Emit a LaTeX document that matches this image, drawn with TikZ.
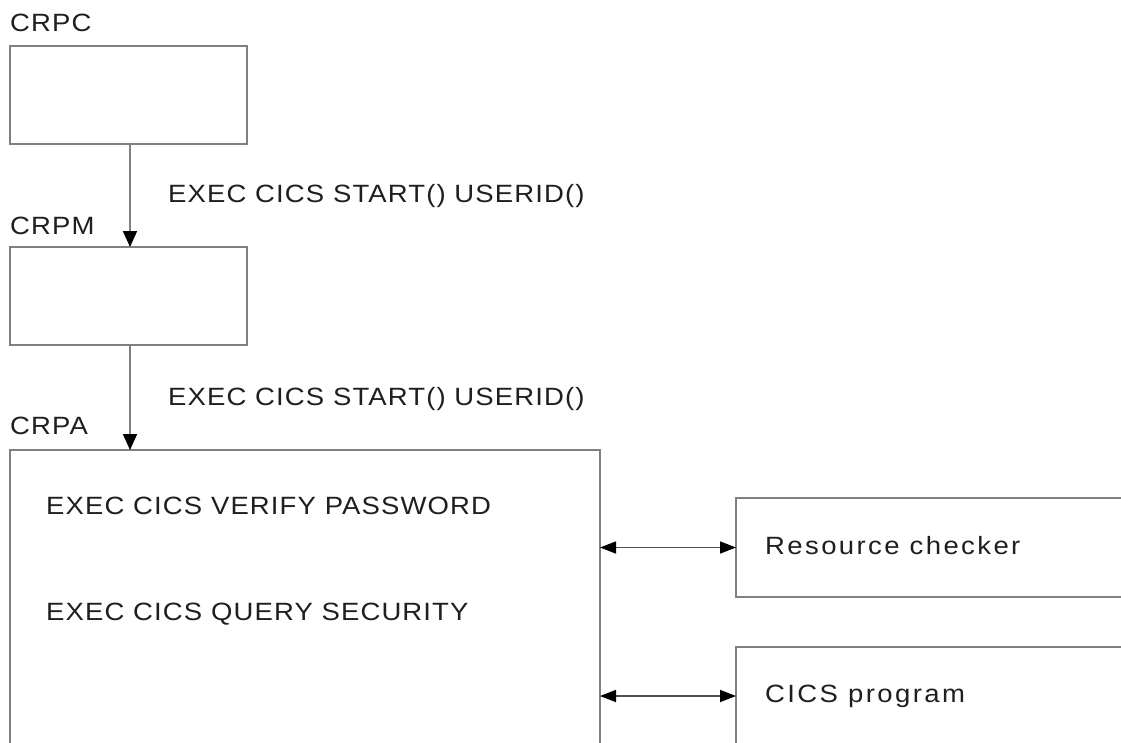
\documentclass[tikz,border=0pt]{standalone}
\usepackage{fontspec}
\setmainfont{Liberation Sans}
\newfontfamily\capsfont[FakeStretch=1.1,LetterSpace=4.5]{Liberation Sans}
\newfontfamily\lowfont[FakeStretch=1.1,LetterSpace=9.6]{Liberation Sans}
\usetikzlibrary{arrows.meta}
\definecolor{boxgray}{RGB}{128,128,128}
\definecolor{arrgray}{RGB}{80,80,80}
\tikzset{
  boxnode/.style={draw=boxgray, line width=1.8pt, rectangle, inner sep=0pt, outer sep=0pt, anchor=north west},
  capslabel/.style={anchor=base west, inner sep=0pt, font=\capsfont\fontsize{25}{30}\selectfont, text=black!88},
  lowlabel/.style={anchor=base west, inner sep=0pt, font=\lowfont\fontsize{25}{30}\selectfont, text=black!88},
  downarrow/.style={draw=boxgray, line width=1.8pt, -{Triangle[length=16pt,width=14pt,color=black]}},
  dblarrow/.style={draw=arrgray, line width=1.5pt, {Triangle[length=16pt,width=12pt,color=black]}-{Triangle[length=16pt,width=12pt,color=black]}}
}
\begin{document}
\begin{tikzpicture}[x=1pt,y=-1pt]
\useasboundingbox (0,0) rectangle (1121,742);
\fill[white] (0,0) rectangle (1121,742);
\clip (0,0) rectangle (1121,742);

% boxes
\node[boxnode, minimum width=237pt, minimum height=98pt] (crpc) at (10,46) {};
\node[boxnode, minimum width=237pt, minimum height=98pt] (crpm) at (10,247) {};
\node[boxnode, minimum width=590pt, minimum height=350pt] (crpa) at (10,450) {};
\node[boxnode, minimum width=500pt, minimum height=99pt] (rc) at (736,498) {};
\node[boxnode, minimum width=500pt, minimum height=98pt] (cp) at (736,647) {};

% labels
\node[capslabel] (lcrpc) at (10,31) {CRPC};
\node[capslabel] (lcrpm) at (10,234) {CRPM};
\node[capslabel] (lcrpa) at (10,434) {CRPA};
\node[capslabel] (start1) at (168,202) {EXEC CICS START() USERID()};
\node[capslabel] (start2) at (168,405) {EXEC CICS START() USERID()};
\node[capslabel] (verify) at (46,514) {EXEC CICS VERIFY PASSWORD};
\node[capslabel] (query) at (46,620) {EXEC CICS QUERY SECURITY};
\node[lowlabel] (trc) at (765,554) {Resource checker};
\node[lowlabel] (tcp) at (765,702) {CICS program};

% connectors
\draw[downarrow] ([xshift=120pt]crpc.south west) -- ([xshift=120pt]crpm.north west);
\draw[downarrow] ([xshift=120pt]crpm.south west) -- ([xshift=120pt]crpa.north west);
\draw[dblarrow] (crpa.east |- rc.west) -- (rc.west);
\draw[dblarrow] (crpa.east |- cp.west) -- (cp.west);
\end{tikzpicture}
\end{document}
